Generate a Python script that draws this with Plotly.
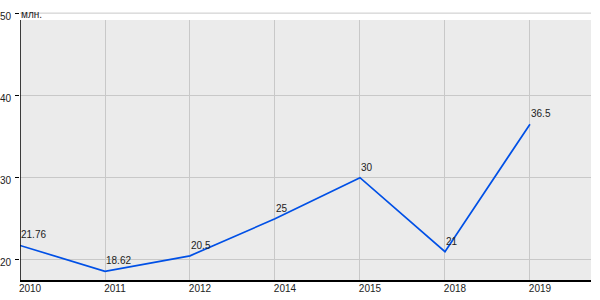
import plotly.graph_objects as go

years = ["2010", "2011", "2012", "2014", "2015", "2018", "2019"]
values = [21.76, 18.62, 20.5, 25, 30, 21, 36.5]
value_labels = ["21.76", "18.62", "20.5", "25", "30", "21", "36.5"]
y_ticks = [20, 30, 40, 50]
unit_label = "млн."

y_min, y_max, y_bg_top = 17.56, 50.5, 49.15
x_max = 6.718
FONT = "Liberation Sans, Arial"

fig = go.Figure()
fig.add_trace(go.Scatter(
    x=list(range(len(years))), y=values, mode="lines",
    line=dict(color="#0050e6", width=1.7),
    cliponaxis=False, hoverinfo="skip",
))

for i, (v, lab) in enumerate(zip(values, value_labels)):
    fig.add_annotation(x=i, y=v, xref="x", yref="y", text=lab, showarrow=False,
                       xanchor="left", yanchor="bottom", yshift=3, xshift=-1,
                       font=dict(family=FONT, size=10, color="#222222"))

# gray plotting background (below gridlines)
fig.add_shape(type="rect", xref="x", yref="y", x0=0, x1=x_max, y0=y_min, y1=y_bg_top,
              fillcolor="#ebebeb", line=dict(width=0), layer="below")
# white strip above gray area hides vertical gridlines there
fig.add_shape(type="rect", xref="x", yref="y", x0=0, x1=x_max, y0=y_bg_top, y1=y_max,
              fillcolor="white", line=dict(width=0), layer="between")
# top gridline (outside the gray area)
fig.add_shape(type="line", xref="x", yref="y", x0=0, x1=x_max, y0=max(y_ticks), y1=max(y_ticks),
              line=dict(color="#c8c8c8", width=1), layer="between")
# left axis line
fig.add_shape(type="line", xref="x", yref="y", x0=0, x1=0, y0=y_min, y1=y_bg_top,
              line=dict(color="black", width=1.5), layer="above")

fig.add_annotation(x=0, y=50, xref="x", yref="y", text=unit_label, showarrow=False,
                   xanchor="left", yanchor="middle", yshift=-1, xshift=-1,
                   font=dict(family=FONT, size=10, color="#222222"))

fig.update_xaxes(
    range=[0, x_max], tickmode="array", tickvals=list(range(len(years))), ticktext=years,
    showgrid=True, gridcolor="#c8c8c8", gridwidth=1, zeroline=False,
    showline=True, linecolor="black", linewidth=1.5,
    ticks="", ticklabelshift=10, ticklabelstandoff=-2, automargin=False,
    tickfont=dict(family=FONT, size=10, color="#222222"),
)
fig.update_yaxes(
    range=[y_min, y_max], tickmode="array", tickvals=y_ticks,
    showgrid=True, gridcolor="#c8c8c8", gridwidth=1, zeroline=False,
    showline=False, ticks="outside", ticklen=4, tickcolor="black", tickwidth=1,
    ticklabelstandoff=2, ticklabelshift=3, automargin=False,
    tickfont=dict(family=FONT, size=10, color="#222222"),
)
fig.update_layout(
    width=600, height=300, margin=dict(l=20, r=9, t=9, b=20),
    plot_bgcolor="white", paper_bgcolor="white", showlegend=False,
)
fig.write_html("out.html")
